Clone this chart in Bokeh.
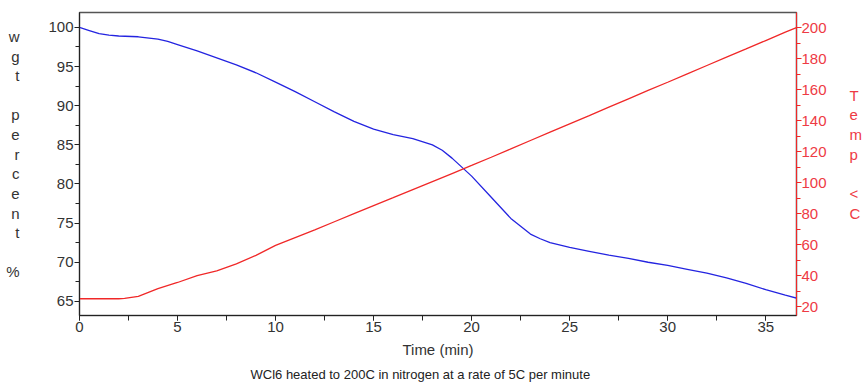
from bokeh.plotting import figure
from bokeh.models import Range1d, LinearAxis, SingleIntervalTicker, ColumnDataSource, Title
from bokeh.embed import file_html
from bokeh.resources import INLINE

# ---- data ----
time_wgt = [0, 0.5, 1, 1.5, 2, 3, 4, 4.5, 5, 6, 7, 8, 9, 10, 11, 12, 13, 14, 15, 16,
            17, 18, 18.5, 19, 20, 21, 22, 23, 23.5, 24, 25, 26, 27, 28, 29, 30, 31,
            32, 33, 34, 35, 36, 36.6]
wgt_percent = [100, 99.6, 99.2, 99.0, 98.9, 98.8, 98.5, 98.2, 97.8, 97.0, 96.1, 95.2,
               94.2, 93.0, 91.8, 90.5, 89.2, 88.0, 87.0, 86.3, 85.8, 85.0, 84.3, 83.3,
               81.0, 78.3, 75.6, 73.6, 73.0, 72.5, 71.9, 71.4, 70.9, 70.5, 70.0, 69.6,
               69.1, 68.6, 68.0, 67.3, 66.5, 65.8, 65.4]

time_temp = [0, 1, 2, 2.3, 3, 4, 5, 6, 7, 8, 9, 10, 11, 12, 13, 14, 15, 16, 17, 18,
             19, 20, 21, 22, 23, 24, 25, 26, 27, 28, 29, 30, 31, 32, 33, 34, 35, 36, 36.57]
temp_c = [25, 25, 25, 25.2, 26.5, 31.5, 35.5, 40, 43, 47.5, 53, 59.4, 64.5, 69.5, 74.7,
          79.9, 85.1, 90.2, 95.4, 100.6, 105.8, 111, 116.3, 121.7, 127.1, 132.5, 137.9,
          143.2, 148.6, 154, 159.4, 164.7, 170.1, 175.5, 180.9, 186.2, 191.6, 197, 200]

left_label = "w\ng\nt\n\np\ne\nr\nc\ne\nn\nt\n\n%\n"
right_label = "T\ne\nm\np\n\n<\nC\n"
x_title = "Time (min)"
caption = "WCl6 heated to 200C in nitrogen at a rate of 5C per minute"

# ---- styling ----
FONT = "Liberation Sans"
TXT = "#333333"
RED = "#f02828"
RED_TXT = "#ee3a44"
BLUE = "#2424e0"

p = figure(width=865, height=386, output_backend="svg", toolbar_location=None,
           x_range=Range1d(0, 36.57), y_range=Range1d(63.2, 101.9),
           min_border_left=79, min_border_right=66, min_border_top=12,
           min_border_bottom=71)
p.extra_y_ranges = {"temp": Range1d(14.2, 209.7)}
p.grid.visible = False
p.outline_line_color = "#555555"
p.outline_line_width = 1.5
p.background_fill_color = "white"
p.border_fill_color = "white"

src_w = ColumnDataSource(dict(t=time_wgt, w=wgt_percent))
src_t = ColumnDataSource(dict(t=time_temp, c=temp_c))
p.line("t", "w", source=src_w, line_color=BLUE, line_width=1.3)
p.line("t", "c", source=src_t, line_color=RED, line_width=1.3, y_range_name="temp")

# bottom axis
xa = p.xaxis[0]
xa.ticker = SingleIntervalTicker(interval=5, num_minor_ticks=2)
xa.axis_line_color = "#222222"
xa.major_tick_line_color = "#222222"
xa.minor_tick_line_color = "#222222"
xa.major_tick_in = 0
xa.major_tick_out = 5
xa.minor_tick_in = 0
xa.minor_tick_out = 5
xa.major_label_text_font = FONT
xa.major_label_text_font_size = "15px"
xa.major_label_text_color = TXT
xa.major_label_standoff = 1
xa.axis_label = x_title
xa.axis_label_text_font = FONT
xa.axis_label_text_font_size = "15px"
xa.axis_label_text_font_style = "normal"
xa.axis_label_text_color = TXT
xa.axis_label_standoff = 6

# left axis
ya = p.yaxis[0]
ya.ticker = SingleIntervalTicker(interval=5, num_minor_ticks=2)
ya.axis_line_color = "#222222"
ya.major_tick_line_color = "#222222"
ya.minor_tick_line_color = "#222222"
ya.major_tick_in = 0
ya.major_tick_out = 5
ya.minor_tick_in = 0
ya.minor_tick_out = 4
ya.major_label_text_font = FONT
ya.major_label_text_font_size = "15px"
ya.major_label_text_color = TXT
ya.major_label_standoff = 1
ya.axis_label = left_label
ya.axis_label_orientation = "horizontal"
ya.axis_label_text_font = FONT
ya.axis_label_text_font_size = "15px"
ya.axis_label_text_font_style = "normal"
ya.axis_label_text_color = TXT
ya.axis_label_text_line_height = 1.154
ya.axis_label_standoff = 26

# right axis (temperature)
ra = LinearAxis(y_range_name="temp",
                ticker=SingleIntervalTicker(interval=20, num_minor_ticks=2))
ra.axis_line_color = RED
ra.major_tick_line_color = RED
ra.minor_tick_line_color = RED
ra.major_tick_in = 0
ra.major_tick_out = 5
ra.minor_tick_in = 0
ra.minor_tick_out = 4
ra.major_label_text_font = FONT
ra.major_label_text_font_size = "15px"
ra.major_label_text_color = RED_TXT
ra.major_label_standoff = 0
ra.axis_label = right_label
ra.axis_label_orientation = "horizontal"
ra.axis_label_text_font = FONT
ra.axis_label_text_font_size = "15px"
ra.axis_label_text_font_style = "normal"
ra.axis_label_text_color = RED_TXT
ra.axis_label_text_line_height = 1.154
ra.axis_label_standoff = 20
p.add_layout(ra, "right")

p.add_layout(Title(text=caption, align="left", offset=171, standoff=9,
                   text_font=FONT, text_font_size="13px", text_font_style="normal",
                   text_color="#222222"), "below")

open("out.html", "w").write(file_html(p, INLINE))
